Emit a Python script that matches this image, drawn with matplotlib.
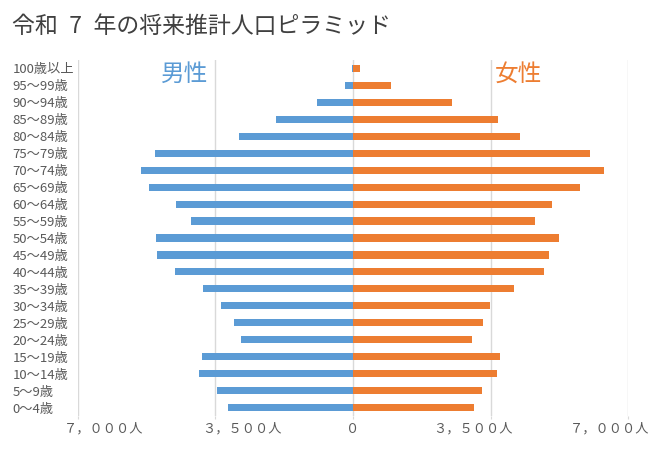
import matplotlib.pyplot as plt
import matplotlib.transforms as mtrans
import numpy as np

plt.rcParams['font.family'] = ['Noto Sans CJK JP', 'DejaVu Sans']

# age groups, bottom to top
ages = ['0～4歳', '5～9歳', '10～14歳', '15～19歳', '20～24歳', '25～29歳',
        '30～34歳', '35～39歳', '40～44歳', '45～49歳', '50～54歳', '55～59歳',
        '60～64歳', '65～69歳', '70～74歳', '75～79歳', '80～84歳', '85～89歳',
        '90～94歳', '95～99歳', '100歳以上']

# estimated population
male = [3180, 3455, 3915, 3835, 2850, 3025, 3355, 3810, 4520, 4980, 5005,
        4115, 4495, 5205, 5385, 5030, 2900, 1960, 920, 210, 30]
female = [3085, 3290, 3670, 3750, 3030, 3310, 3490, 4100, 4870, 5000, 5250,
          4640, 5070, 5785, 6400, 6040, 4255, 3690, 2520, 970, 178]

xticks = [-7000, -3500, 0, 3500, 7000]
xticklabels = ['７，０００人', '３，５００人', '０', '３，５００人', '７，０００人']

blue = '#5B9BD5'
orange = '#ED7D31'
grey = '#595959'

fig = plt.figure(figsize=(6.62, 4.76), dpi=100)
ax = fig.add_axes([78/662, 1-416/476, 550/662, 356/476])

y = np.arange(len(ages))
ax.barh(y, -np.array(male), height=0.42, color=blue, zorder=3)
ax.barh(y, female, height=0.42, color=orange, zorder=3)

ax.set_xlim(-7000, 7000)
ax.set_ylim(-0.5, len(ages) - 0.5)

# grid
for t in xticks:
    ax.axvline(t, color='#D9D9D9', lw=1, zorder=1)
for s in ax.spines.values():
    s.set_visible(False)

ax.set_xticks(xticks)
ax.set_xticklabels(xticklabels, fontsize=9.5, color=grey)
ax.tick_params(axis='x', length=2, color='#D9D9D9', pad=3)
# excel puts these labels a bit off the ticks
shifts = [26, 26, 0, -18, -18]
for lab, dx in zip(ax.get_xticklabels(), shifts):
    lab.set_transform(lab.get_transform() +
                      mtrans.ScaledTranslation(dx / 100, 0, fig.dpi_scale_trans))

ax.set_yticks(y)
ax.set_yticklabels(ages, fontsize=9.5, color=grey, ha='left')
ax.tick_params(axis='y', length=0, pad=47)

ax.text(0.151, 0.961, '男性', transform=ax.transAxes, fontsize=17,
        color=blue, va='center', ha='left')
ax.text(0.758, 0.961, '女性', transform=ax.transAxes, fontsize=17,
        color=orange, va='center', ha='left')

# title, the 7 sits between wider spaces
fig.text(12/662, 1-26/476, '令和\u20027\u2002年の将来推計人口ピラミッド',
         fontsize=16.5, color='#404040', va='center', ha='left')

plt.savefig('out.png', dpi=100)
